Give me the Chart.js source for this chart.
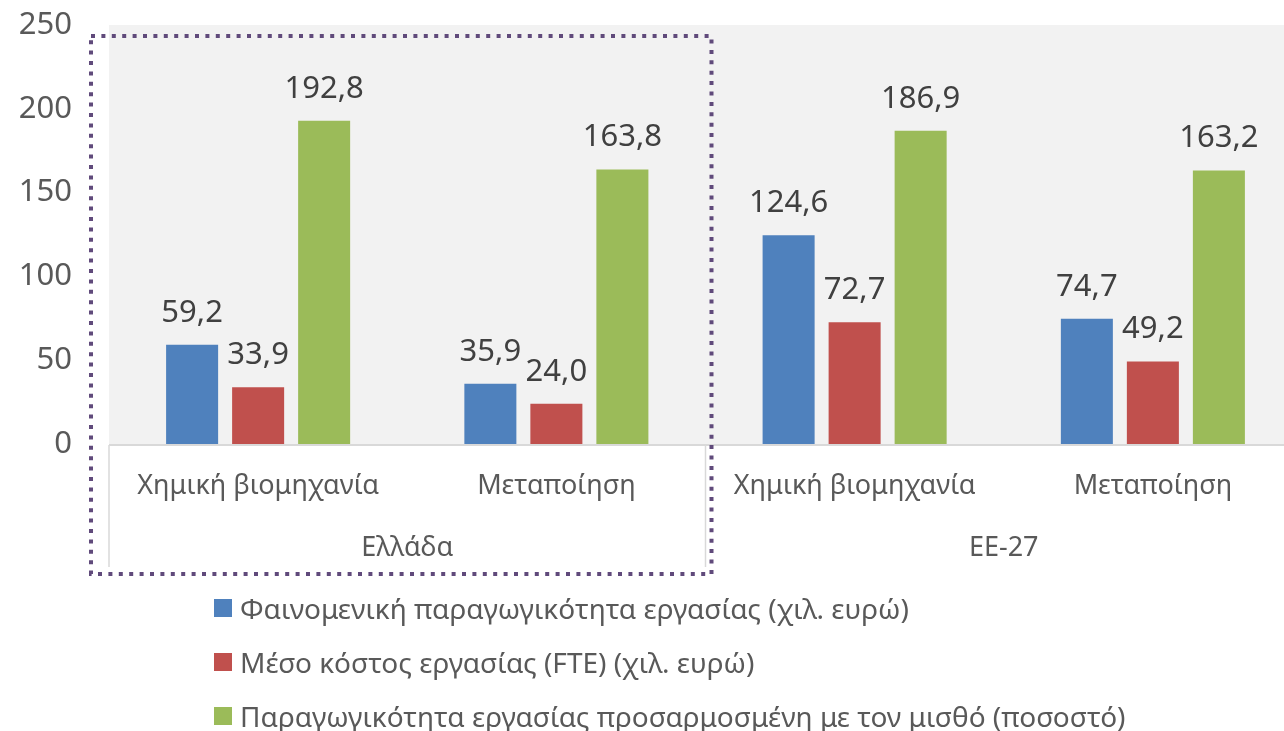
<!DOCTYPE html>
<html>
<head>
<meta charset="utf-8">
<script src="https://cdn.jsdelivr.net/npm/chart.js@4"></script>
<style>
  html, body { margin: 0; padding: 0; background: #fff; overflow: hidden; }
  #wrap { position: relative; width: 1302px; height: 731px; }
  #legend { position: absolute; left: 214px; top: 581px; font-family: 'Noto Sans', sans-serif; font-size: 28px; color: #595959; }
  .item { height: 54px; display: flex; align-items: center; white-space: nowrap; }
  .box { width: 18px; height: 18px; margin-right: 8px; flex: none; }
</style>
</head>
<body>
<div id="wrap">
  <canvas id="chart" width="1302" height="731"></canvas>
  <div id="legend"></div>
</div>
<script>
// Data
const categories = ['Χημική βιομηχανία', 'Μεταποίηση', 'Χημική βιομηχανία', 'Μεταποίηση'];
const groups = ['Ελλάδα', 'ΕΕ-27'];
const seriesNames = [
    'Φαινομενική παραγωγικότητα εργασίας (χιλ. ευρώ)',
    'Μέσο κόστος εργασίας (FTE) (χιλ. ευρώ)',
    'Παραγωγικότητα εργασίας προσαρμοσμένη με τον μισθό (ποσοστό)'
];
const productivity = [59.2, 35.9, 124.6, 74.7];
const labourCost = [33.9, 24.0, 72.7, 49.2];
const adjustedProductivity = [192.8, 163.8, 186.9, 163.2];
const yTicks = [0, 50, 100, 150, 200, 250];

const colors = ['#4f81bd', '#c0504d', '#9bbb59'];
const FONT = "'Noto Sans', sans-serif";

// Gray plot background
const plotBackground = {
    id: 'plotBackground',
    beforeDraw(chart) {
        const { ctx, chartArea } = chart;
        ctx.save();
        ctx.fillStyle = '#f2f2f2';
        ctx.fillRect(chartArea.left, chartArea.top, chartArea.right - chartArea.left, chartArea.bottom - chartArea.top);
        ctx.restore();
    }
};

// Value labels, group labels, separators and dotted box
const decorations = {
    id: 'decorations',
    afterDatasetsDraw(chart) {
        const { ctx, scales } = chart;
        const x = scales.x, y = scales.y;
        ctx.save();

        // data labels
        ctx.font = `31px ${FONT}`;
        ctx.fillStyle = '#404040';
        ctx.textAlign = 'center';
        ctx.textBaseline = 'middle';
        chart.data.datasets.forEach((ds, i) => {
            chart.getDatasetMeta(i).data.forEach((bar, j) => {
                const txt = ds.data[j].toFixed(1).replace('.', ',');
                ctx.fillText(txt, bar.x, bar.y - 32);
            });
        });

        // x axis line
        ctx.strokeStyle = '#d9d9d9';
        ctx.lineWidth = 2;
        ctx.beginPath();
        ctx.moveTo(x.left, y.bottom + 1);
        ctx.lineTo(x.right, y.bottom + 1);
        ctx.stroke();

        // group separators in category area
        const catW = (x.right - x.left) / categories.length;
        const seps = [x.left, x.left + catW * 2, x.right];
        ctx.lineWidth = 1.5;
        seps.forEach(sx => {
            ctx.beginPath();
            ctx.moveTo(sx, y.bottom + 1);
            ctx.lineTo(sx, x.bottom - 7);
            ctx.stroke();
        });

        // group labels
        ctx.font = `27px ${FONT}`;
        ctx.fillStyle = '#595959';
        groups.forEach((g, i) => {
            ctx.fillText(g, x.left + catW * (2 * i + 1), y.bottom + 104);
        });

        // dotted box around Greece
        ctx.strokeStyle = '#604a7b';
        ctx.lineWidth = 4;
        ctx.setLineDash([4, 6.4]);
        ctx.strokeRect(x.left - 18, y.top + 11, catW * 2 + 24, x.bottom - y.top - 11);
        ctx.restore();
    }
};

new Chart(document.getElementById('chart'), {
    type: 'bar',
    data: {
        labels: categories,
        datasets: [
            { label: seriesNames[0], data: productivity, backgroundColor: colors[0] },
            { label: seriesNames[1], data: labourCost, backgroundColor: colors[1] },
            { label: seriesNames[2], data: adjustedProductivity, backgroundColor: colors[2] }
        ]
    },
    options: {
        responsive: false,
        animation: false,
        layout: { padding: { top: 25, bottom: 157, left: 0, right: 0 } },
        datasets: { bar: { categoryPercentage: 0.664, barPercentage: 0.788 } },
        plugins: { legend: { display: false }, tooltip: { enabled: false } },
        scales: {
            x: {
                grid: { display: false, drawTicks: false },
                border: { display: false },
                ticks: { font: { family: FONT, size: 27 }, color: '#595959', padding: 26, maxRotation: 0 },
                afterFit(scale) {
                    scale.height = 130;
                    scale.paddingLeft = 0; scale.paddingRight = 0;
                }
            },
            y: {
                min: 0, max: 250,
                grid: { display: false, drawTicks: false },
                border: { display: false },
                afterBuildTicks(scale) { scale.ticks = yTicks.map(v => ({ value: v })); },
                ticks: { font: { family: FONT, size: 31 }, color: '#595959', padding: 37 },
                afterFit(scale) {
                    scale.width = 109;
                    scale.paddingTop = 0; scale.paddingBottom = 0;
                }
            }
        }
    },
    plugins: [plotBackground, decorations]
});

// HTML legend
const legend = document.getElementById('legend');
seriesNames.forEach((name, i) => {
    const row = document.createElement('div');
    row.className = 'item';
    row.innerHTML = `<span class="box" style="background:${colors[i]}"></span><span>${name}</span>`;
    legend.appendChild(row);
});
</script>
</body>
</html>
